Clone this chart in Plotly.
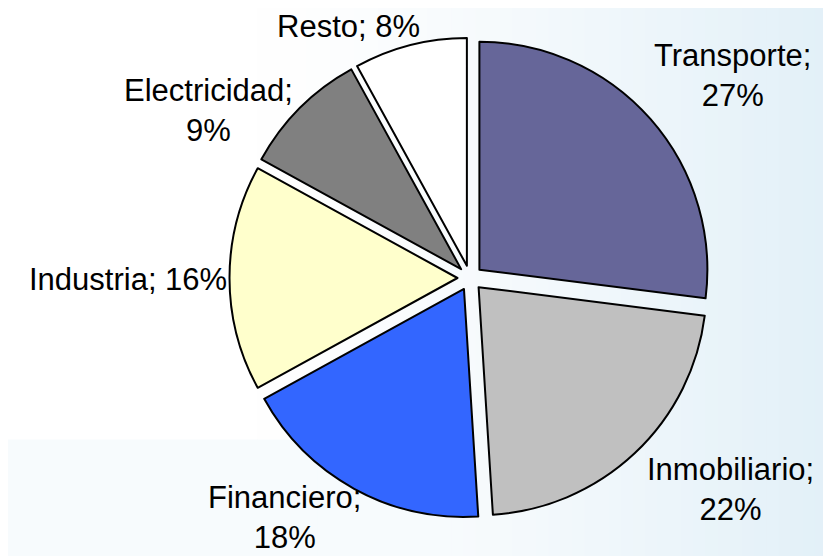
import plotly.graph_objects as go

categories = ["Transporte", "Inmobiliario", "Financiero", "Industria", "Electricidad", "Resto"]
values = [27, 22, 18, 16, 9, 8]
colors = ["#666699", "#C0C0C0", "#3366FF", "#FFFFCC", "#808080", "#FFFFFF"]

# label text layout (two-line or one-line) per category
label_lines = [True, True, True, False, True, False]
label_pos = [(724, 67), (722, 481), (276, 509), (120, 271), (200, 103), (340, 18)]

W, H = 831, 556

fig = go.Figure()
fig.add_trace(go.Pie(
    labels=categories,
    values=values,
    sort=False,
    direction="clockwise",
    rotation=0,
    pull=[0.055] * len(values),
    marker=dict(colors=colors, line=dict(color="black", width=2)),
    textinfo="none",
    hoverinfo="label+percent",
    showlegend=False,
    domain=dict(x=[221.5 / W, 702.5 / W], y=[45.5 / H, 526.5 / H]),
))

# background gradient (white -> light blue towards the right), faint band at bottom
shapes = []
n = 48
x0 = 0.3
band_y = (H - 432) / H
band = (247, 251, 253)
for i in range(n):
    a = x0 + (1 - x0) * i / n
    b = x0 + (1 - x0) * (i + 1) / n
    t = ((i + 0.5) / n) ** 1.3
    c = (int(255 + (226 - 255) * t), int(255 + (240 - 255) * t), int(255 + (248 - 255) * t))
    shapes.append(dict(type="rect", xref="paper", yref="paper", x0=a, x1=b + 0.002, y0=band_y, y1=1,
                       fillcolor=f"rgb({c[0]},{c[1]},{c[2]})", line=dict(width=0), layer="below"))
    cb = tuple(min(p, q) for p, q in zip(c, band))
    shapes.append(dict(type="rect", xref="paper", yref="paper", x0=a, x1=b + 0.002, y0=0, y1=band_y + 0.001,
                       fillcolor=f"rgb({cb[0]},{cb[1]},{cb[2]})", line=dict(width=0), layer="below"))
shapes.append(dict(type="rect", xref="paper", yref="paper", x0=0, x1=x0 + 0.001, y0=0, y1=band_y + 0.001,
                   fillcolor=f"rgb({band[0]},{band[1]},{band[2]})", line=dict(width=0), layer="below"))

annotations = []
for cat, v, two, (px, py) in zip(categories, values, label_lines, label_pos):
    txt = f"{cat};<br>{v}%" if two else f"{cat}; {v}%"
    annotations.append(dict(
        text=txt, x=px / W, y=1 - py / H, xref="paper", yref="paper",
        showarrow=False, xanchor="center", yanchor="middle", align="center",
        font=dict(family="Liberation Sans, Arial, sans-serif", size=31, color="black"),
    ))

fig.update_layout(
    width=W, height=H,
    margin=dict(l=0, r=0, t=0, b=0),
    paper_bgcolor="white",
    plot_bgcolor="white",
    shapes=shapes,
    annotations=annotations,
)

fig.write_html("out.html")
